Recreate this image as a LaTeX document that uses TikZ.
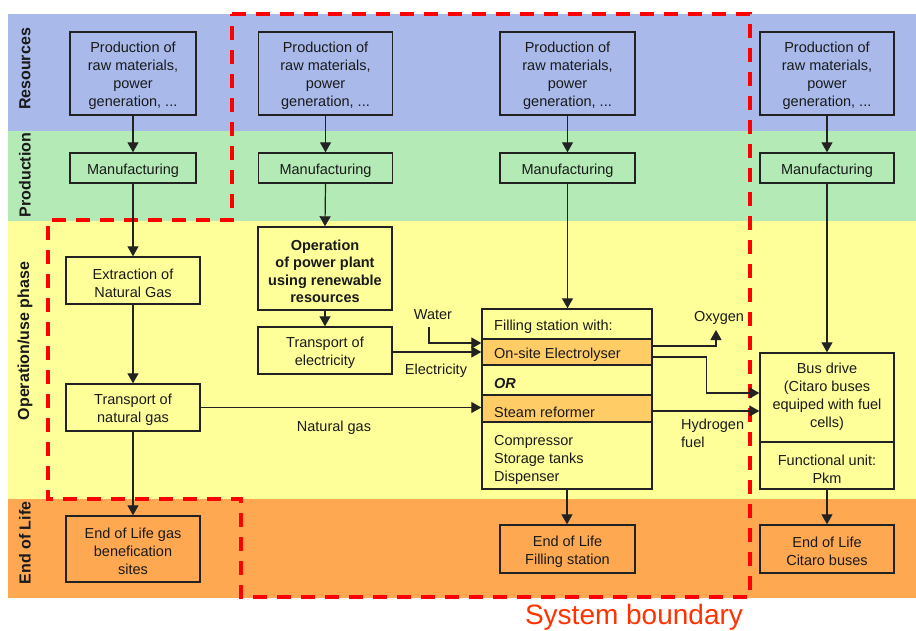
\documentclass[tikz,border=0pt]{standalone}
\usepackage{fontspec}
\setmainfont{Liberation Sans}
\usetikzlibrary{arrows.meta}
\definecolor{bandblue}{HTML}{A8B9EA}
\definecolor{bandgreen}{HTML}{B3EAB5}
\definecolor{bandyellow}{HTML}{FFFF99}
\definecolor{bandorange}{HTML}{FFA852}
\definecolor{rowpeach}{HTML}{FFCC66}
\definecolor{linec}{HTML}{222222}
\definecolor{txt}{HTML}{1A1A1A}
\definecolor{sysred}{HTML}{FF3300}
\newcommand\bxfont{\fontsize{14.5}{18}\selectfont}
\newcommand\tp{\rule{0pt}{16pt}}
\begin{document}
\begin{tikzpicture}[x=1pt,y=-1pt,
  box/.style={draw=linec, line width=1.4pt, align=center, inner sep=0pt, font=\bxfont, text=txt},
  lbl/.style={inner sep=0pt, font=\bxfont, text=txt},
  side/.style={rotate=90, inner sep=0pt, font=\fontsize{16}{18}\selectfont\bfseries, text=txt},
  arr/.style={draw=linec, line width=1.2pt, -{Triangle[length=10pt,width=11pt]}},
  conn/.style={draw=linec, line width=1.2pt},
  boundary/.style={draw=red, line width=4pt, dash pattern=on 14pt off 10pt}]
\useasboundingbox (0,0) rectangle (916,631);
\fill[white] (0,0) rectangle (916,631);
% bands
\fill[bandblue] (8,14) rectangle (916,131);
\fill[bandgreen] (8,131) rectangle (916,221);
\fill[bandyellow] (8,221) rectangle (916,499);
\fill[bandorange] (8,499) rectangle (916,598);
% side labels
\node[side] (sres) at (25,69) {Resources};
\node[side] (sprod) at (25,175) {Production};
\node[side] (sop) at (25,341) {Operation/use phase};
\node[side] (seol) at (25,543) {End of Life};
% system boundary
\draw[boundary] (232,14) -- (750,14) -- (750,597) -- (241,597) -- (241,499) -- (48,499) -- (48,220) -- (232,220) -- cycle;
% resources
\foreach \n/\x/\w in {1/133/126,2/325.5/134,3/567.5/135,4/827/134}{
  \node[box, minimum width=\w pt, minimum height=83pt] (r\n) at (\x,73.5) {\tp Production of\\raw materials,\\power\\generation, ...};
  \node[box, minimum width=\w pt, minimum height=30pt] (m\n) at (\x,168) {\tp Manufacturing};
}
% column 1
\node[box, minimum width=134pt, minimum height=47pt] (ex) at (133,280.5) {\tp Extraction of\\Natural Gas};
\node[box, minimum width=134pt, minimum height=47pt] (tg) at (133,407.5) {\tp Transport of\\natural gas};
\node[box, minimum width=134pt, minimum height=66pt] (eg) at (133,549) {\tp End of Life gas\\benefication\\sites};
% column 2
\node[box, minimum width=134pt, minimum height=83pt, font=\fontsize{14.5}{17.5}\selectfont\bfseries] (pp) at (325,268.5) {\tp Operation\\of power plant\\using renewable\\resources};
\node[box, minimum width=134pt, minimum height=47pt] (te) at (325,350.5) {\tp Transport of\\electricity};
% filling station
\node[box, minimum width=170pt, minimum height=180pt] (fs) at (567,399) {};
\node[box, fill=rowpeach, minimum width=170pt, minimum height=26pt] (el) at (567,352) {};
\node[box, fill=rowpeach, minimum width=170pt, minimum height=27pt] (sr) at (567,408.5) {};
\node[lbl, anchor=west] (fst) at (494,326.5) {Filling station with:};
\node[lbl, anchor=west] (elt) at (494,354.5) {On-site Electrolyser};
\node[lbl, anchor=west, font=\bxfont\bfseries\itshape] (ort) at (494,383.5) {OR};
\node[lbl, anchor=west] (srt) at (494,412.5) {Steam reformer};
\node[lbl, anchor=west, align=left] (cst) at (494,460) {Compressor\\Storage tanks\\Dispenser};
% bus
\node[box, minimum width=134pt, minimum height=136pt] (bd) at (827,421) {};
\draw[conn, line width=1.4pt] (760,442) -- (894,442);
\node[lbl, align=center] (bdt) at (827,397) {Bus drive\\(Citaro buses\\equiped with fuel\\cells)};
\node[lbl, align=center] (fut) at (827,469) {Functional unit:\\Pkm};
% end of life
\node[box, minimum width=135pt, minimum height=48pt] (ef) at (567.5,549) {\tp End of Life\\Filling station};
\node[box, minimum width=134pt, minimum height=48pt] (ec) at (827,549) {\tp End of Life\\Citaro buses};
% vertical arrows
\foreach \n in {1,2,3,4}{\draw[arr] (r\n.south) -- (m\n.north);}
\draw[arr] (m1.south) -- (ex.north);
\draw[arr] (ex.south) -- (tg.north);
\draw[arr] (tg.south) -- (eg.north);
\draw[arr] (m2.south) -- (pp.north);
\draw[arr] (pp.south) -- (te.north);
\draw[arr] (m3.south) -- (m3.south |- fs.north);
\draw[arr] (m4.south) -- (bd.north);
\draw[arr] (fs.south) -- (fs.south |- ef.north);
\draw[arr] (bd.south) -- (ec.north);
% horizontal flows
\coordinate (wat) at (429,327);
\draw[arr] (wat) |- ([yshift=9pt]el.west);
\draw[arr] (te.east |- el.west) -- (el.west);
\draw[arr] (tg.east) -- (tg.east -| sr.west);
\coordinate (oxy) at (716,330);
\draw[arr] ([yshift=6pt]el.east) -| (oxy);
\draw[arr] ([yshift=-5pt]el.east) -- ++(54,0) |- ([yshift=28pt]bd.west);
\draw[arr] ([yshift=-2.5pt]sr.east) -- ([yshift=-2.5pt]sr.east -| bd.west);
% labels
\node[lbl] (lwat) at (433,315) {Water};
\node[lbl] (lele) at (436,371) {Electricity};
\node[lbl] (lng) at (334,428) {Natural gas};
\node[lbl] (loxy) at (719,318) {Oxygen};
\node[lbl, anchor=west, align=left] (lhyd) at (681,433) {Hydrogen\\fuel};
\node[inner sep=0pt, anchor=base, text=sysred, font=\fontsize{28}{30}\selectfont] (sysb) at (634,624.5) {System boundary};
\end{tikzpicture}
\end{document}
